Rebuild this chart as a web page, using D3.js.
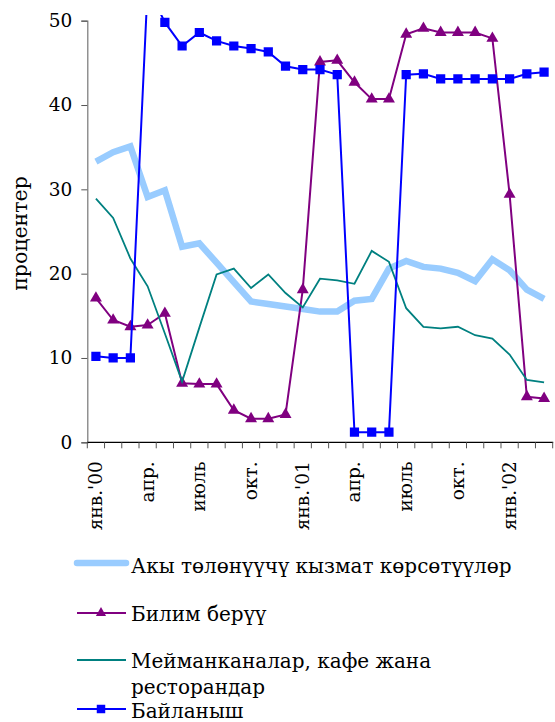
<!DOCTYPE html>
<html>
<head>
<meta charset="utf-8">
<script src="https://cdn.jsdelivr.net/npm/d3@7/dist/d3.min.js"></script>
<style>
  html, body { margin: 0; padding: 0; background: #fff; }
  svg { display: block; }
  text { font-family: "DejaVu Serif", serif; fill: #000; }
</style>
</head>
<body>
<svg id="chart" width="555" height="722"></svg>
<script>
// Monthly shares, Jan 2000 – Mar 2002 (27 months), percent
const months = d3.range(27);
const tickLabels = ["янв.'00", "апр.", "июль", "окт.", "янв.'01", "апр.", "июль", "окт.", "янв.'02"];
const yTicks = [0, 10, 20, 30, 40, 50];

const paidServices = [33.3, 34.4, 35.1, 29.1, 29.9, 23.2, 23.6, 21.3, 19.0, 16.7, 16.4, 16.1, 15.8, 15.5, 15.5, 16.8, 17.0, 20.6, 21.5, 20.8, 20.6, 20.1, 19.1, 21.7, 20.4, 18.1, 17.0];
const education    = [17.1, 14.5, 13.7, 13.9, 15.3, 7.0, 6.9, 6.9, 3.8, 2.8, 2.8, 3.3, 18.1, 45.1, 45.3, 42.7, 40.7, 40.7, 48.4, 49.1, 48.6, 48.6, 48.6, 47.9, 29.4, 5.4, 5.2];
const hotels       = [28.9, 26.6, 21.8, 18.5, 12.9, 7.2, 13.6, 19.9, 20.6, 18.3, 19.9, 17.7, 16.0, 19.4, 19.2, 18.8, 22.7, 21.4, 15.9, 13.7, 13.5, 13.7, 12.7, 12.3, 10.4, 7.4, 7.1];
const communication= [10.2, 10.0, 10.0, 54.0, 49.8, 47.0, 48.6, 47.6, 47.0, 46.7, 46.3, 44.6, 44.2, 44.2, 43.6, 1.2, 1.2, 1.2, 43.6, 43.7, 43.1, 43.1, 43.1, 43.1, 43.1, 43.7, 43.9];

const seriesNames = ["Акы төлөнүүчү кызмат көрсөтүүлөр", "Билим берүү", "Мейманканалар, кафе жана ресторандар", "Байланыш"];

const series = [
  { name: seriesNames[0], values: paidServices, color: "#99ccff", width: 6.5, marker: null },
  { name: seriesNames[1], values: education, color: "#800080", width: 2, marker: "triangle" },
  { name: seriesNames[2], values: hotels, color: "#008080", width: 1.8, marker: null },
  { name: seriesNames[3], values: communication, color: "#0000ff", width: 2, marker: "square" }
];

const svg = d3.select("#chart");
const plot = { left: 87.3, right: 552.7, top: 20.7, bottom: 442.3 };

const x = d3.scaleBand().domain(months).range([plot.left, plot.right]).paddingInner(0).paddingOuter(0);
const y = d3.scaleLinear().domain([0, 50]).range([plot.bottom, plot.top]);
const cx = i => x(i) + x.bandwidth() / 2;

// clip region for the plot area (values above 50 run off the top)
svg.append("defs").append("clipPath").attr("id", "plotClip")
  .append("rect")
  .attr("x", plot.left - 8).attr("y", 15)
  .attr("width", plot.right - plot.left + 16).attr("height", plot.bottom - 15 + 8);

// y axis
const yAxis = svg.append("g").attr("transform", `translate(${plot.left},0)`)
  .call(d3.axisLeft(y).tickValues(yTicks).tickSize(6).tickPadding(9).tickFormat(d3.format("d")));
yAxis.select(".domain").attr("stroke", "#777").attr("stroke-width", 1.2);
yAxis.selectAll(".tick line").attr("stroke", "#555");
yAxis.selectAll(".tick text").attr("font-family", "DejaVu Serif").attr("font-size", 18.5).attr("fill", "#000");

// x axis: ticks on month boundaries
const xAxisG = svg.append("g").attr("transform", `translate(0,${plot.bottom})`);
xAxisG.append("line").attr("x1", plot.left).attr("x2", plot.right + 0.5)
  .attr("stroke", "#000").attr("stroke-width", 1.2);
xAxisG.selectAll("line.tick").data(d3.range(28)).join("line")
  .attr("class", "tick")
  .attr("x1", i => i < 27 ? x(i) : plot.right).attr("x2", i => i < 27 ? x(i) : plot.right)
  .attr("y1", 0).attr("y2", 6).attr("stroke", "#555");
xAxisG.selectAll("text.lbl").data(tickLabels).join("text")
  .attr("class", "lbl")
  .attr("transform", (d, k) => `translate(${cx(k * 3) + 6},${19}) rotate(-90)`)
  .attr("text-anchor", "end")
  .attr("font-size", 18.5)
  .text(d => d);

// y axis title
svg.append("text")
  .attr("transform", `translate(27,${(plot.top + plot.bottom) / 2 + 2}) rotate(-90)`)
  .attr("text-anchor", "middle")
  .attr("font-size", 20.5)
  .text("процентер");

// series
const lineGen = d3.line().x((d, i) => cx(i)).y(d => y(d));
const gPlot = svg.append("g").attr("clip-path", "url(#plotClip)");
const triangle = d3.symbol().type(d3.symbolTriangle).size(62);
const square = d3.symbol().type(d3.symbolSquare).size(85);

series.forEach(s => {
  gPlot.append("path")
    .attr("d", lineGen(s.values))
    .attr("fill", "none")
    .attr("stroke", s.color)
    .attr("stroke-width", s.width)
    .attr("stroke-linejoin", "miter");
  if (s.marker) {
    gPlot.selectAll(null).data(s.values).join("path")
      .attr("d", s.marker === "triangle" ? triangle() : square())
      .attr("transform", (d, i) => `translate(${cx(i)},${y(d)})`)
      .attr("fill", s.color);
  }
});

// legend
const legendRows = [
  { s: series[0], lineY: 563, lines: [seriesNames[0]], base: 573 },
  { s: series[1], lineY: 613, lines: [seriesNames[1]], base: 621 },
  { s: series[2], lineY: 660, lines: ["Мейманканалар, кафе жана", "ресторандар"], base: 668 },
  { s: series[3], lineY: 709, lines: [seriesNames[3]], base: 718 }
];
const legend = svg.append("g");
legendRows.forEach(r => {
  legend.append("line")
    .attr("x1", 77).attr("x2", 126).attr("y1", r.lineY).attr("y2", r.lineY)
    .attr("stroke", r.s.color).attr("stroke-width", r.s.width)
    .attr("stroke-linecap", r.s.width > 4 ? "round" : "butt");
  if (r.s.marker) {
    legend.append("path")
      .attr("d", r.s.marker === "triangle" ? d3.symbol().type(d3.symbolTriangle).size(45)() : d3.symbol().type(d3.symbolSquare).size(72)())
      .attr("transform", `translate(101,${r.lineY})`)
      .attr("fill", r.s.color);
  }
  r.lines.forEach((t, k) => {
    legend.append("text")
      .attr("x", 131).attr("y", r.base + k * 26)
      .attr("font-size", 20)
      .text(t);
  });
});
</script>
</body>
</html>
